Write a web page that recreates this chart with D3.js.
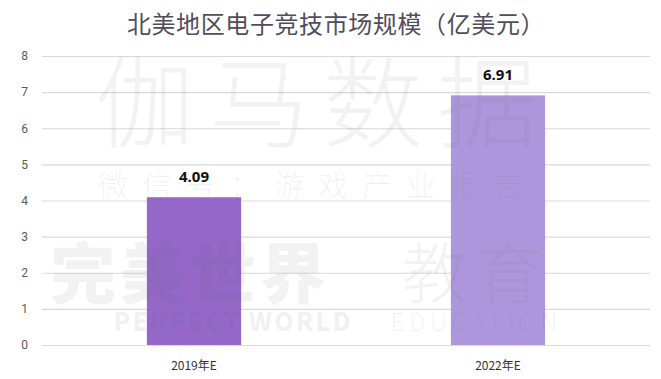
<!DOCTYPE html>
<html>
<head>
<meta charset="utf-8">
<script src="https://cdn.jsdelivr.net/npm/d3@7"></script>
<style>
  body { margin: 0; background: #fff; }
  text { font-family: "Noto Sans CJK SC", "Microsoft YaHei", sans-serif; }
</style>
</head>
<body>
<div id="vis"></div>
<script>
// chart data
var title = '北美地区电子竞技市场规模（亿美元）';
var categories = ['2019年E', '2022年E'];
var values = [4.09, 6.91];
var barColors = ['#9467c8', '#ad96dc'];
var yTicks = [0, 1, 2, 3, 4, 5, 6, 7, 8];

// watermark lines (text, x, y, size, weight, spacing)
var watermark = [
  { t: '伽马数据', x: 323, y: 140, s: 100, w: 300, ls: 14 },
  { t: '微信号：游戏产业报告', x: 318, y: 196, s: 30, w: 300, ls: 14 },
  { t: '完美世界', x: 190, y: 298, s: 66, w: 900, ls: 4 },
  { t: '教育', x: 476, y: 298, s: 66, w: 300, ls: 8 },
  { t: 'PERFECT WORLD', x: 233, y: 331, s: 25, w: 900, ls: 2 },
  { t: 'EDUCATION', x: 476, y: 331, s: 25, w: 300, ls: 4 }
];

const width = 661;
const height = 379;
var margin = { left: 42, right: 11, top: 56, bottom: 34 };

var svg = d3.select('#vis')
  .append('svg')
  .attr('width', width)
  .attr('height', height);

var x = d3.scaleBand()
  .domain(categories)
  .range([margin.left, width - margin.right])
  .paddingInner(0.69)
  .paddingOuter(0.345);

var y = d3.scaleLinear()
  .domain([0, 8])
  .range([height - margin.bottom, margin.top]);

// title
svg.append('text')
  .attr('x', 336)
  .attr('y', 33)
  .attr('text-anchor', 'middle')
  .attr('font-size', 24)
  .attr('letter-spacing', 0.6)
  .attr('fill', '#524c5c')
  .text(title);

// gridlines + y labels
var yAxis = d3.axisLeft(y)
  .tickValues(yTicks)
  .tickSize(-(width - margin.left - margin.right))
  .tickPadding(14)
  .tickFormat(d3.format('d'));

var gy = svg.append('g')
  .attr('transform', 'translate(' + margin.left + ',0)')
  .call(yAxis);
gy.select('.domain').remove();
gy.selectAll('.tick line')
  .attr('stroke', '#d9d9d9')
  .attr('stroke-width', 1.2);
gy.selectAll('.tick text')
  .attr('fill', '#595959')
  .attr('font-size', 12)
  .style('font-family', 'Roboto, sans-serif');

// bars
svg.selectAll('.bar')
  .data(values)
  .enter().append('rect')
  .attr('class', 'bar')
  .attr('x', function (d, i) { return x(categories[i]); })
  .attr('width', x.bandwidth())
  .attr('y', function (d) { return y(d); })
  .attr('height', function (d) { return y(0) - y(d); })
  .attr('fill', function (d, i) { return barColors[i]; });

// value labels
svg.selectAll('.val')
  .data(values)
  .enter().append('text')
  .attr('class', 'val')
  .attr('x', function (d, i) { return x(categories[i]) + x.bandwidth() / 2; })
  .attr('y', function (d) { return y(d) - 15; })
  .attr('text-anchor', 'middle')
  .attr('font-size', 15)
  .attr('font-weight', 'bold')
  .attr('fill', '#111')
  .style('font-family', '"Open Sans", sans-serif')
  .text(function (d) { return d.toFixed(2); });

// x labels
var xAxis = d3.axisBottom(x).tickSize(0).tickPadding(16);
var gx = svg.append('g')
  .attr('transform', 'translate(0,' + y(0) + ')')
  .call(xAxis);
gx.select('.domain').remove();
gx.selectAll('.tick text')
  .attr('fill', '#333')
  .attr('font-size', 12);

// watermark overlay
svg.append('g')
  .attr('pointer-events', 'none')
  .selectAll('text')
  .data(watermark)
  .enter().append('text')
  .attr('x', function (d) { return d.x; })
  .attr('y', function (d) { return d.y; })
  .attr('text-anchor', 'middle')
  .attr('font-size', function (d) { return d.s; })
  .attr('font-weight', function (d) { return d.w; })
  .attr('letter-spacing', function (d) { return d.ls; })
  .attr('fill', 'rgba(110,110,110,0.09)')
  .text(function (d) { return d.t; });
</script>
</body>
</html>
